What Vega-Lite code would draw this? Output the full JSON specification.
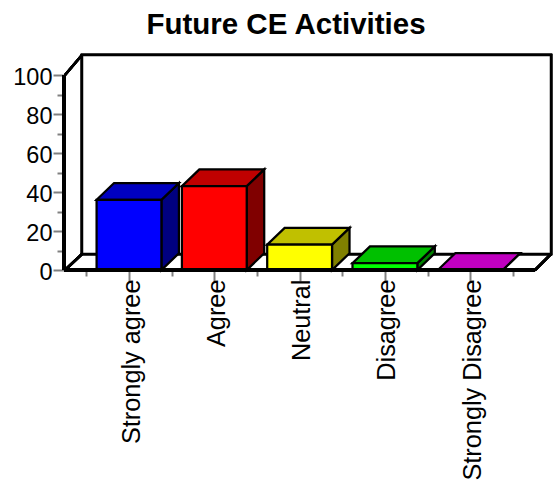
{
  "$schema": "https://vega.github.io/schema/vega-lite/v6.json",
  "autosize": "none",
  "padding": {"left": 64, "top": 55, "right": 4, "bottom": 210},
  "width": 490,
  "height": 215,
  "background": "white",
  "config": {"view": {"stroke": null}, "font": "Liberation Sans"},
  "title": {"text": "Future CE Activities", "font": "Liberation Sans", "fontSize": 29.5, "fontWeight": "bold", "color": "black", "offset": 13, "dx": -23},
  "data": {"values": [
    {"category": "Strongly agree", "slot": 1, "value": 36},
    {"category": "Agree", "slot": 2, "value": 43},
    {"category": "Neutral", "slot": 3, "value": 13},
    {"category": "Disagree", "slot": 4, "value": 3.5},
    {"category": "Strongly Disagree", "slot": 5, "value": 0}
  ]},
  "transform": [
    {"calculate": "datum.slot-0.38", "as": "left"},
    {"calculate": "datum.slot+0.38", "as": "right"}
  ],
  "layer": [
    {
      "mark": {"type": "rect", "fill": "white", "stroke": "black", "strokeWidth": 2.5},
      "encoding": {
        "x": {"datum": 0.449, "type": "quantitative", "scale": {"domain": [0.238, 5.982], "nice": false, "zero": false},
          "axis": {"title": null, "grid": false, "domain": false, "values": [1, 2, 3, 4, 5], "tickSize": 11, "tickWidth": 2, "tickColor": "#808080", "labelExpr": "['Strongly agree','Agree','Neutral','Disagree','Strongly Disagree'][datum.value-1]", "labelAngle": -90, "labelAlign": "right", "labelBaseline": "middle", "labelFont": "Liberation Sans", "labelFontSize": 25.3, "labelColor": "black", "labelPadding": -2, "labelOffset": 2, "labelLimit": 400, "labelOverlap": false, "labelBound": false, "labelFlush": false}},
        "x2": {"datum": 5.947},
        "y": {"datum": 8.2, "type": "quantitative", "scale": {"domain": [0, 110.26], "nice": false, "zero": false},
          "axis": {"title": null, "grid": false, "domain": false, "values": [0, 20, 40, 60, 80, 100], "tickSize": 11, "tickWidth": 2, "tickColor": "#808080", "labelFont": "Liberation Sans", "labelFontSize": 23.5, "labelColor": "black", "labelPadding": 1, "labelOffset": 2, "labelOverlap": false, "labelBound": false, "labelFlush": false}},
        "y2": {"datum": 110.26}
      }
    },
    {
      "mark": {"type": "rule", "stroke": "black", "strokeWidth": 2.5},
      "encoding": {
        "x": {"datum": 0.25, "type": "quantitative", "scale": {"domain": [0.238, 5.982], "nice": false, "zero": false},
          "axis": {"orient": "bottom", "title": null, "grid": false, "domain": false, "labels": false, "values": [0.5, 1.5, 2.5, 3.5, 4.5, 5.5], "tickSize": 6, "tickWidth": 2, "tickColor": "#808080"}},
        "x2": {"datum": 0.449},
        "y": {"datum": 0, "type": "quantitative", "scale": {"domain": [0, 110.26], "nice": false, "zero": false},
          "axis": {"orient": "left", "title": null, "grid": false, "domain": false, "labels": false, "values": [10, 30, 50, 70, 90], "tickSize": 7, "tickWidth": 2, "tickColor": "#808080"}},
        "y2": {"datum": 8.2}
      }
    },
    {
      "mark": {"type": "rule", "stroke": "black", "strokeWidth": 2.5},
      "encoding": {
        "x": {"datum": 0.25, "type": "quantitative", "axis": null},
        "x2": {"datum": 0.449},
        "y": {"datum": 100, "type": "quantitative", "axis": null},
        "y2": {"datum": 110.26}
      }
    },
    {
      "mark": {"type": "rule", "stroke": "black", "strokeWidth": 2.5},
      "encoding": {
        "x": {"datum": 5.76, "type": "quantitative", "axis": null},
        "x2": {"datum": 5.947},
        "y": {"datum": 0, "type": "quantitative", "axis": null},
        "y2": {"datum": 8.2}
      }
    },
    {
      "transform": [
        {"calculate": "[0,1]", "as": "edge"},
        {"flatten": ["edge"]},
        {"calculate": "datum.right+datum.edge*0.205", "as": "sx"},
        {"calculate": "datum.value+datum.edge*8.6", "as": "sy"},
        {"calculate": "datum.edge*8.6", "as": "sy0"}
      ],
      "mark": {"type": "area", "orient": "vertical", "stroke": "black", "strokeWidth": 2.25, "strokeJoin": "miter"},
      "encoding": {
        "x": {"field": "sx", "type": "quantitative", "axis": null},
        "y": {"field": "sy", "type": "quantitative", "axis": null},
        "y2": {"field": "sy0"},
        "color": {"field": "category", "type": "nominal", "legend": null,
          "scale": {"domain": ["Strongly agree", "Agree", "Neutral", "Disagree", "Strongly Disagree"], "range": ["#000080", "#800000", "#808000", "#008000", "#800080"]}}
      }
    },
    {
      "transform": [
        {"calculate": "[0,1]", "as": "edge"},
        {"flatten": ["edge"]},
        {"calculate": "datum.left+datum.edge*0.205", "as": "tx"},
        {"calculate": "datum.right+datum.edge*0.205", "as": "tx2"},
        {"calculate": "datum.value+datum.edge*8.6", "as": "ty"}
      ],
      "mark": {"type": "area", "orient": "horizontal", "stroke": "black", "strokeWidth": 2.25, "strokeJoin": "miter"},
      "encoding": {
        "y": {"field": "ty", "type": "quantitative", "axis": null},
        "x": {"field": "tx", "type": "quantitative", "axis": null},
        "x2": {"field": "tx2"},
        "color": {"field": "category", "type": "nominal", "legend": null,
          "scale": {"domain": ["Strongly agree", "Agree", "Neutral", "Disagree", "Strongly Disagree"], "range": ["#0000c0", "#c00000", "#c0c000", "#00c000", "#c000c0"]}}
      }
    },
    {
      "mark": {"type": "rect", "stroke": "black", "strokeWidth": 2.25},
      "encoding": {
        "x": {"field": "left", "type": "quantitative", "axis": null},
        "x2": {"field": "right"},
        "y": {"field": "value", "type": "quantitative", "axis": null},
        "y2": {"datum": 0},
        "color": {"field": "category", "type": "nominal", "legend": null,
          "scale": {"domain": ["Strongly agree", "Agree", "Neutral", "Disagree", "Strongly Disagree"], "range": ["#0000ff", "#ff0000", "#ffff00", "#00ff00", "#ff00ff"]}}
      }
    },
    {
      "mark": {"type": "rule", "stroke": "black", "strokeWidth": 3.5},
      "encoding": {
        "x": {"datum": 0.238, "type": "quantitative", "axis": null},
        "x2": {"datum": 5.76},
        "y": {"datum": 0, "type": "quantitative", "axis": null}
      }
    },
    {
      "mark": {"type": "rule", "stroke": "black", "strokeWidth": 3.5},
      "encoding": {
        "x": {"datum": 0.238, "type": "quantitative", "axis": null},
        "y": {"datum": 0, "type": "quantitative", "axis": null},
        "y2": {"datum": 100}
      }
    }
  ],
  "resolve": {"scale": {"color": "independent"}, "axis": {"x": "independent", "y": "independent"}}
}
